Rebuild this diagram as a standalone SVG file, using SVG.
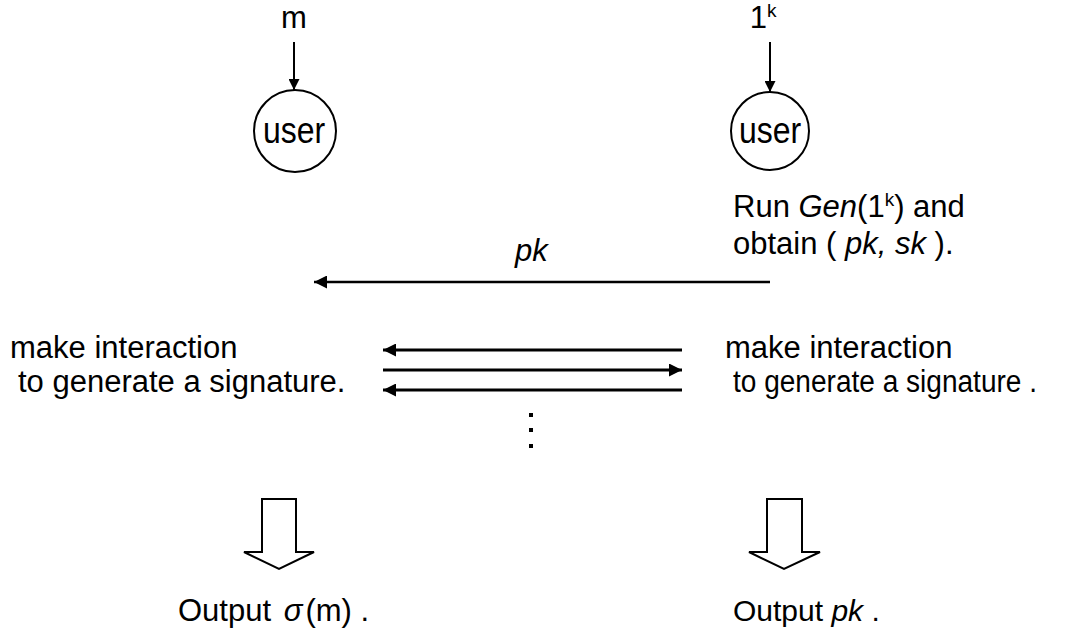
<svg xmlns="http://www.w3.org/2000/svg" width="1077" height="631" viewBox="0 0 1077 631">
<defs>
<style>
text{font-family:"Liberation Sans",Arial,sans-serif;font-size:31px;fill:#000}
.i{font-style:italic}
.sup{font-size:19px}
.ln{stroke:#000;stroke-width:2;fill:none}
.mid{stroke:#000;stroke-width:2.5;fill:none}
.thick{stroke:#000;stroke-width:3;fill:none}
.node{fill:#fff;stroke:#000;stroke-width:2}
.blk{fill:#fff;stroke:#000;stroke-width:2;stroke-linejoin:miter}
.usr{font-size:32px}
</style>
<marker id="ah" viewBox="0 0 10 10" refX="10" refY="5" markerWidth="11" markerHeight="11" markerUnits="userSpaceOnUse" orient="auto">
<path d="M0,0 L10,5 L0,10 z" fill="#000"/>
</marker>
<marker id="ah2" viewBox="0 0 10 10" refX="10" refY="5" markerWidth="13" markerHeight="13" markerUnits="userSpaceOnUse" orient="auto">
<path d="M0,0 L10,5 L0,10 z" fill="#000"/>
</marker>
</defs>
<rect width="1077" height="631" fill="#fff"/>

<g id="input-m"><text x="294" y="28" text-anchor="middle">m</text></g>
<g id="input-1k"><text x="763" y="28" text-anchor="middle">1<tspan class="sup" dy="-11">k</tspan></text></g>

<g id="user-left">
<circle class="node" cx="295" cy="131" r="41"/>
<text class="usr" text-anchor="middle" transform="translate(294,143) scale(1,1.15)">user</text>
</g>
<g id="user-right">
<circle class="node" cx="770" cy="131" r="39"/>
<text class="usr" text-anchor="middle" transform="translate(770,143) scale(1,1.15)">user</text>
</g>

<g id="gen-text">
<text x="733" y="217">Run <tspan class="i">Gen</tspan>(1<tspan class="sup" dy="-11">k</tspan><tspan dy="11">) and</tspan></text>
<text x="733" y="254">obtain ( <tspan class="i">pk, sk</tspan> ).</text>
</g>

<g id="pk-label"><text x="515" y="261" class="i">pk</text></g>

<g id="left-text">
<text x="10" y="358">make interaction</text>
<text x="18" y="392">to generate a signature.</text>
</g>
<g id="right-text">
<text x="725" y="358">make interaction</text>
<text x="733" y="392" textLength="304" lengthAdjust="spacingAndGlyphs">to generate a signature .</text>
</g>

<g id="dots" fill="#000">
<rect x="529" y="413" width="4" height="4"/>
<rect x="529" y="428" width="4" height="4"/>
<rect x="529" y="444" width="4" height="4"/>
</g>

<g id="connectors">
<line class="ln" x1="294" y1="42" x2="294" y2="90" marker-end="url(#ah)"/>
<line class="ln" x1="770" y1="42" x2="770" y2="92" marker-end="url(#ah)"/>
<line class="mid" x1="770" y1="282" x2="314" y2="282" marker-end="url(#ah2)"/>
<line class="thick" x1="682" y1="350" x2="383" y2="350" marker-end="url(#ah2)"/>
<line class="thick" x1="383" y1="370" x2="682" y2="370" marker-end="url(#ah2)"/>
<line class="thick" x1="682" y1="390" x2="383" y2="390" marker-end="url(#ah2)"/>
</g>

<g id="down-left">
<path class="blk" d="M262,499 H296 V552 H314 L279,569 L244,552 H262 Z"/>
</g>
<g id="down-right">
<path class="blk" d="M767,499 H802 V552 H820 L784,569 L749,552 H767 Z"/>
</g>

<g id="output-left"><text x="178" y="621">Output <tspan class="i" dx="4">σ</tspan><tspan dx="3">(m)</tspan> .</text></g>
<g id="output-right"><text x="733" y="621" style="font-size:30px">Output <tspan class="i">pk</tspan> .</text></g>
</svg>
